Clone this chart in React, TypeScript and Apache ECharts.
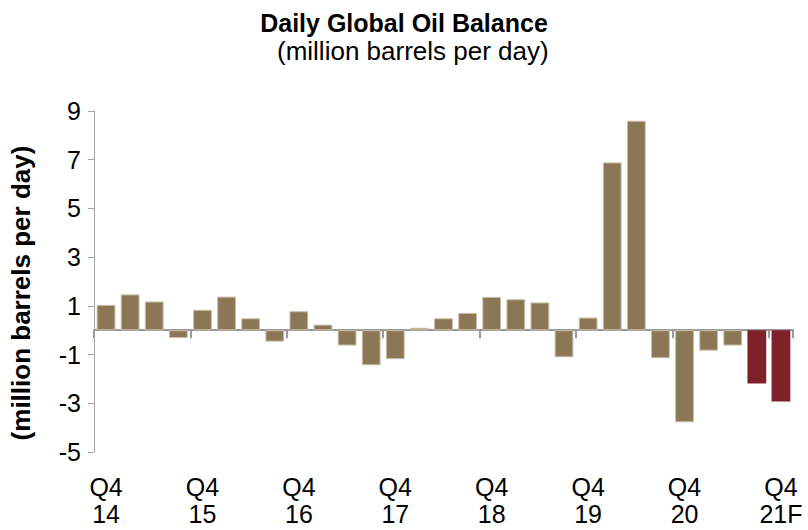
import React, { useEffect, useRef } from "react";
import * as echarts from "echarts";

const categories: string[] = [
  "Q4 14", "Q1 15", "Q2 15", "Q3 15", "Q4 15", "Q1 16", "Q2 16", "Q3 16",
  "Q4 16", "Q1 17", "Q2 17", "Q3 17", "Q4 17", "Q1 18", "Q2 18", "Q3 18",
  "Q4 18", "Q1 19", "Q2 19", "Q3 19", "Q4 19", "Q1 20", "Q2 20", "Q3 20",
  "Q4 20", "Q1 21", "Q2 21", "Q3 21F", "Q4 21F",
];

const balance: number[] = [
  1.04, 1.47, 1.18, -0.32, 0.84, 1.38, 0.49, -0.47,
  0.78, 0.23, -0.63, -1.44, -1.19, 0.10, 0.49, 0.71,
  1.37, 1.27, 1.14, -1.11, 0.52, 6.89, 8.60, -1.15,
  -3.78, -0.84, -0.63, -2.19, -2.93,
];

const isForecast: boolean[] = [
  false, false, false, false, false, false, false, false,
  false, false, false, false, false, false, false, false,
  false, false, false, false, false, false, false, false,
  false, false, false, true, true,
];

const yTicks = { min: -5, max: 9, interval: 2 };

const FONT = "'Liberation Sans', Arial, Helvetica, sans-serif";

export default function App() {
  const ref = useRef<HTMLDivElement>(null);

  useEffect(() => {
    if (!ref.current) return;
    const chart = echarts.init(ref.current, null, { renderer: "svg" });
    const labelFmt = (v: string) => v.replace(" ", "\n");
    chart.setOption({
      animation: false,
      backgroundColor: "#ffffff",
      title: [
        {
          text: "Daily Global Oil Balance",
          left: "center",
          top: 5,
          textStyle: { fontFamily: FONT, fontSize: 25, fontWeight: "bold", color: "#000" },
        },
        {
          text: "(million barrels per day)",
          left: 272,
          top: 33,
          textStyle: { fontFamily: FONT, fontSize: 26, fontWeight: "normal", color: "#000" },
        },
      ],
      graphic: [
        {
          type: "text",
          x: 21,
          y: 293,
          rotation: Math.PI / 2,
          style: {
            text: "(million barrels per day)",
            fontFamily: FONT,
            fontSize: 26,
            fontWeight: "bold",
            fill: "#000",
            textAlign: "center",
            textVerticalAlign: "middle",
          },
        },
      ],
      grid: { left: 94, right: 15, top: 111, bottom: 78, containLabel: false },
      xAxis: [
        {
          type: "category",
          data: categories,
          position: "bottom",
          axisLine: { onZero: true, lineStyle: { color: "#9a9a9a", width: 2 } },
          axisTick: { show: true, interval: 3, length: 8, lineStyle: { color: "#9a9a9a", width: 2 } },
          axisLabel: { show: false },
          splitLine: { show: false },
        },
        {
          type: "category",
          data: categories,
          position: "bottom",
          axisLine: { show: false, onZero: false },
          axisTick: { show: false },
          axisLabel: {
            interval: 3,
            formatter: labelFmt,
            margin: 21,
            fontFamily: FONT,
            fontSize: 25,
            lineHeight: 27,
            color: "#000",
          },
          splitLine: { show: false },
        },
      ],
      yAxis: {
        type: "value",
        min: yTicks.min,
        max: yTicks.max,
        interval: yTicks.interval,
        axisLine: { show: true, lineStyle: { color: "#a6a6a6", width: 1 } },
        axisTick: { show: true, length: 6, lineStyle: { color: "#a6a6a6" } },
        axisLabel: { fontFamily: FONT, fontSize: 25, color: "#000", margin: 13 },
        splitLine: { show: false },
      },
      series: [
        {
          type: "bar",
          xAxisIndex: 0,
          barCategoryGap: "22%",
          data: balance.map((v, i) => ({
            value: v,
            itemStyle: isForecast[i]
              ? { color: "#7e2129" }
              : { color: "#8b7755", borderColor: "#cbbfa9", borderWidth: 1 },
          })),
        },
      ],
    });
    return () => chart.dispose();
  }, []);

  return (
    <div
      ref={ref}
      style={{ position: "fixed", left: 0, top: 0, width: 808, height: 530, background: "#fff" }}
    />
  );
}
